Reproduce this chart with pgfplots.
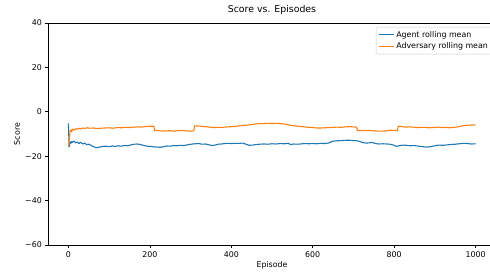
\documentclass[border=0pt]{standalone}
\usepackage{fontspec}
\setmainfont{DejaVu Sans}
\usepackage{pgfplots}
\pgfplotsset{compat=1.18}
\definecolor{tabblue}{HTML}{1F77B4}
\definecolor{taborange}{HTML}{FF7F0E}
\newcommand{\tk}{\fontsize{7.9}{9.5}\selectfont}
\begin{document}
\begin{tikzpicture}[x=1bp,y=1bp]
\begin{axis}[
  at={(0,0)}, anchor=south west,
  width=448bp, height=222bp, scale only axis,
  xmin=-50, xmax=1050, ymin=-60, ymax=40,
  xtick={0,200,400,600,800,1000},
  ytick={-60,-40,-20,0,20,40},
  yticklabels={−60,−40,−20,0,20,40},
  xticklabels={0,200,400,600,800,1000},
  tick align=outside, xtick pos=bottom, ytick pos=left,
  major tick length=2.7bp,
  tick style={black, line width=0.6bp},
  axis line style={black, line width=0.6bp},
  ticklabel style={font=\tk},
  xlabel={Episode}, ylabel={Score},
  xlabel style={font=\tk, at={(axis description cs:0.5,0)}, anchor=center, yshift=-20bp},
  ylabel style={font=\tk, at={(axis description cs:-0.0692,0.5)}, anchor=center},
  title={Score vs. Episodes},
  title style={font=\fontsize{9.4}{11}\selectfont, at={(axis description cs:0.5,1)}, anchor=base, yshift=4.5bp},
  legend style={at={(rel axis cs:1,1)}, anchor=north east, xshift=-4bp, yshift=-4bp,
    font=\tk, draw=black!20, rounded corners=2bp, fill=white, fill opacity=0.8, text opacity=1,
    inner sep=2bp, row sep=0bp},
  legend cell align=left,
  legend image code/.code={\draw[#1] (0bp,0bp) -- (15bp,0bp);},
  every axis plot/.append style={line width=1.1bp, line join=round},
]
\addplot[tabblue] coordinates {
(0,-5.2) (2,-15.8) (4,-13.5) (6,-14.2) (8,-13.4) (10,-13.8) (14,-13.2) (18,-14.0) (22,-13.6) (26,-14.3)
(30,-13.7) (35,-14.5) (40,-14.1) (45,-14.8) (50,-14.6) (55,-15.0) (60,-15.6) (66,-16.0) (72,-16.2) (78,-15.8)
(85,-15.6) (92,-15.5) (100,-15.7) (108,-15.4) (115,-15.6) (122,-15.3) (130,-15.5) (138,-15.1) (146,-15.3) (154,-14.9)
(162,-14.6) (170,-14.5) (178,-14.8) (186,-15.2) (194,-15.5) (202,-15.6) (210,-15.8) (218,-15.9) (226,-16.0) (234,-15.7)
(242,-15.4) (250,-15.5) (258,-15.2) (266,-15.3) (274,-15.1) (282,-15.2) (290,-15.0) (298,-14.7) (305,-14.5) (312,-14.4)
(320,-14.3) (328,-14.6) (336,-14.5) (344,-14.8) (352,-15.2) (360,-15.0) (368,-14.6) (376,-14.5) (384,-14.3) (392,-14.2)
(400,-14.3) (410,-14.2) (420,-14.2) (428,-14.1) (436,-14.6) (444,-15.1) (452,-15.0) (460,-14.8) (470,-14.6) (480,-14.5)
(490,-14.6) (500,-14.4) (510,-14.5) (520,-14.3) (530,-14.4) (540,-14.2) (546,-14.8) (552,-14.5) (560,-14.6) (570,-14.5)
(580,-14.3) (590,-14.4) (600,-14.3) (610,-14.4) (620,-14.2) (630,-14.3) (640,-14.0) (648,-13.3) (656,-13.1) (666,-13.0)
(676,-12.9) (686,-12.8) (696,-12.9) (706,-13.0) (714,-13.3) (722,-13.8) (730,-14.1) (738,-14.0) (746,-13.8) (754,-14.3)
(762,-14.5) (772,-14.4) (782,-14.5) (790,-14.6) (798,-15.0) (806,-15.6) (814,-15.2) (822,-15.0) (830,-15.1) (840,-15.3)
(850,-15.2) (860,-15.5) (870,-15.7) (880,-15.9) (890,-15.7) (900,-15.3) (910,-15.0) (920,-15.1) (930,-14.9) (940,-14.7)
(950,-14.6) (960,-14.4) (970,-14.2) (980,-14.3) (990,-14.5) (1000,-14.4)
};
\addlegendentry{Agent rolling mean}
\addplot[taborange] coordinates {
(0,-15.5) (2,-14.0) (4,-8.5) (6,-8.2) (8,-9.0) (10,-7.8) (14,-8.3) (18,-7.6) (22,-7.9) (26,-7.4)
(30,-7.7) (35,-7.3) (40,-7.5) (46,-7.2) (52,-7.4) (60,-7.3) (70,-7.5) (80,-7.4) (90,-7.3) (100,-7.2)
(110,-7.4) (120,-7.1) (130,-7.2) (140,-7.0) (150,-7.1) (160,-6.9) (170,-6.8) (180,-6.9) (190,-6.6) (200,-6.5)
(210,-6.5) (212,-8.4) (220,-8.5) (230,-8.7) (240,-8.6) (250,-8.5) (260,-8.7) (270,-8.5) (280,-8.4) (290,-8.6)
(300,-8.7) (308,-8.6) (310,-6.3) (318,-6.4) (326,-6.5) (334,-6.7) (342,-6.8) (350,-7.0) (360,-7.1) (370,-7.0)
(380,-7.0) (390,-6.8) (400,-6.7) (410,-6.6) (420,-6.3) (430,-6.1) (440,-6.0) (450,-5.7) (460,-5.5) (470,-5.3)
(480,-5.3) (490,-5.2) (500,-5.3) (510,-5.2) (520,-5.3) (530,-5.5) (540,-5.9) (550,-6.2) (560,-6.4) (570,-6.6)
(580,-6.8) (590,-7.0) (600,-7.1) (610,-7.3) (620,-7.3) (630,-7.2) (640,-7.1) (650,-7.0) (660,-6.9) (670,-7.0)
(680,-6.8) (690,-6.7) (700,-6.8) (708,-6.9) (710,-8.5) (720,-8.4) (730,-8.5) (740,-8.4) (750,-8.6) (760,-8.7)
(770,-8.7) (780,-8.6) (790,-8.3) (800,-8.4) (808,-8.5) (810,-6.5) (818,-6.6) (826,-6.9) (836,-6.8) (846,-6.9)
(856,-7.1) (866,-7.0) (876,-7.0) (886,-7.2) (896,-7.1) (906,-6.9) (916,-7.1) (926,-7.0) (936,-7.2) (946,-7.0)
(956,-6.8) (966,-6.4) (976,-6.1) (986,-6.0) (996,-5.9) (1000,-6.0)
};
\addlegendentry{Adversary rolling mean}
\end{axis}
\pgfresetboundingbox
\useasboundingbox (-48,-29) rectangle (442,245);
\end{tikzpicture}
\end{document}
